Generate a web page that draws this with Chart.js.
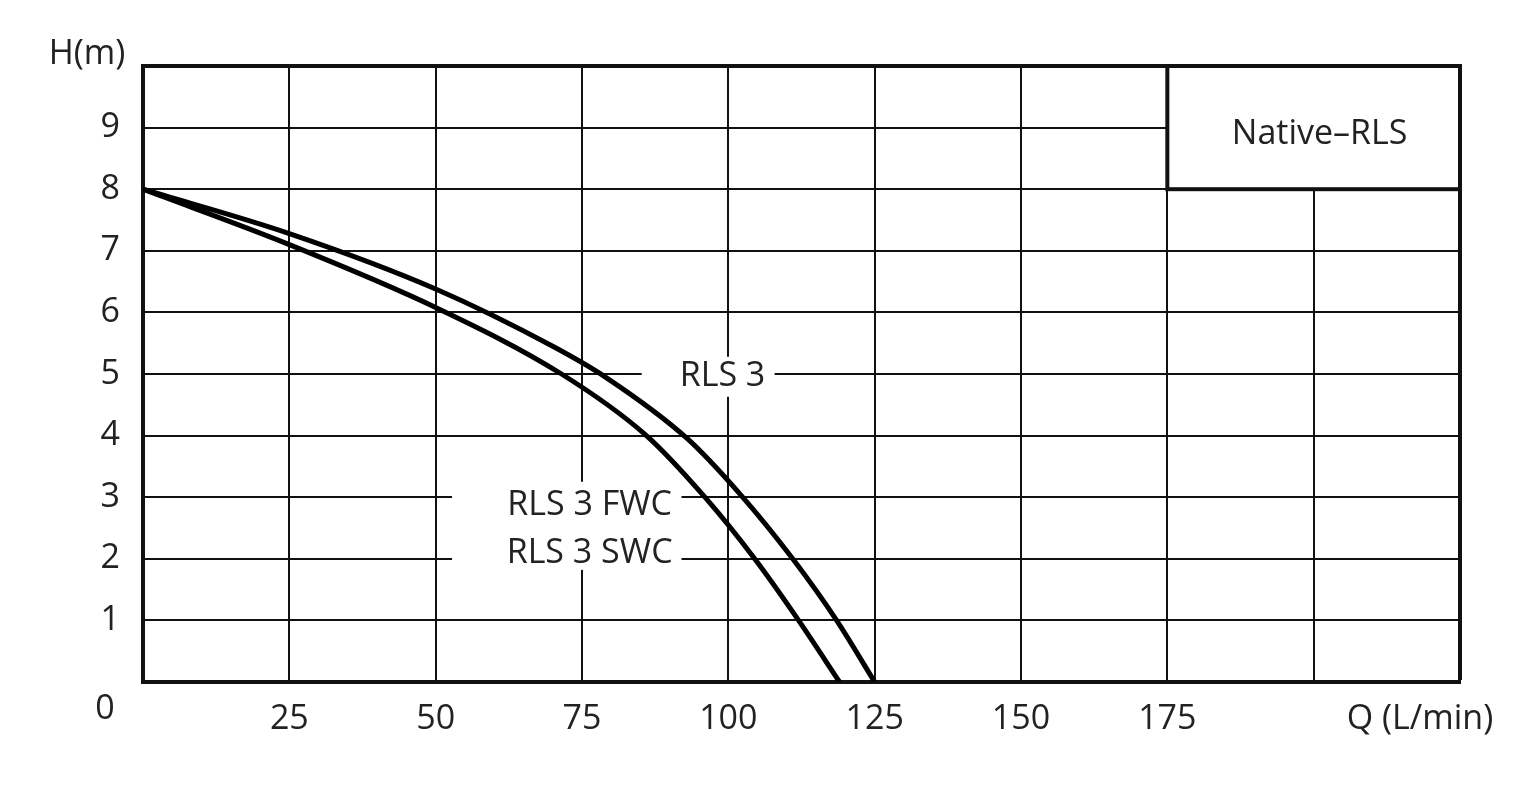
<!DOCTYPE html>
<html lang="en">
<head>
<meta charset="UTF-8">
<title>Native-RLS</title>
<script src="https://cdn.jsdelivr.net/npm/chart.js"></script>
<style>
  html, body { margin: 0; padding: 0; background: #fff; }
  #wrap { width: 1526px; height: 798px; }
</style>
</head>
<body>
<div id="wrap"><canvas id="chart"></canvas></div>
<script>
// pump curves
const qRls3 = [0, 25, 50, 70, 79, 93, 102, 111, 118.5, 125];
const hRls3 = [8, 7.28, 6.38, 5.45, 4.95, 3.95, 3.05, 2.0, 1.0, 0];
const qSwc = [0, 25, 50, 71.5, 86, 96, 104.5, 112, 119];
const hSwc = [8, 7.1, 6.08, 5.0, 4.0, 3.0, 2.0, 1.0, 0];

const xTickLabels = [25, 50, 75, 100, 125, 150, 175];
const yTickLabels = [1, 2, 3, 4, 5, 6, 7, 8, 9];

const FONT = "'Open Sans', 'DejaVu Sans', sans-serif";
const INK = '#111';

// labels on the plot, in data units (q, h); box = white cut-out [q0, q1, h0, h1]
const notes = [
  { text: 'RLS 3', q: 99, h: 5, box: [85.2, 107.9, 4.63, 5.28] },
  { text: 'RLS 3 FWC', q: 76.3, h: 2.9, box: [52.8, 92.0, 1.82, 3.25] },
  { text: 'RLS 3 SWC', q: 76.3, h: 2.13, box: null }
];

const annot = {
  id: 'annot',
  beforeDatasetsDraw(chart) {
    const { ctx, scales: { x, y } } = chart;
    ctx.save();
    ctx.fillStyle = '#fff';
    notes.forEach(n => {
      if (!n.box) return;
      const x0 = x.getPixelForValue(n.box[0]), x1 = x.getPixelForValue(n.box[1]);
      const y0 = y.getPixelForValue(n.box[3]), y1 = y.getPixelForValue(n.box[2]);
      ctx.fillRect(x0, y0, x1 - x0, y1 - y0);
    });
    // name box in the top right corner
    const bx0 = x.getPixelForValue(175), bx1 = x.getPixelForValue(225);
    const by0 = y.getPixelForValue(10), by1 = y.getPixelForValue(8);
    ctx.fillRect(bx0, by0, bx1 - bx0, by1 - by0);
    ctx.strokeStyle = INK;
    ctx.lineWidth = 4;
    ctx.strokeRect(bx0, by0, bx1 - bx0, by1 - by0);
    ctx.restore();
  },
  afterDraw(chart) {
    const { ctx, chartArea: a, scales: { x, y } } = chart;
    ctx.save();
    ctx.fillStyle = '#222';
    ctx.font = '34px ' + FONT;
    ctx.textAlign = 'center';
    ctx.textBaseline = 'alphabetic';
    notes.forEach(n => {
      ctx.fillText(n.text, x.getPixelForValue(n.q), y.getPixelForValue(n.h) + 12);
    });
    ctx.fillText('Native\u2013RLS', (x.getPixelForValue(175) + x.getPixelForValue(225)) / 2 + 6, y.getPixelForValue(9) + 16);
    ctx.fillText('H(m)', a.left - 56, a.top - 2);
    ctx.fillText('0', a.left - 38, a.bottom + 37);
    ctx.fillText('Q (L/min)', a.right - 40, a.bottom + 47);
    ctx.restore();
  }
};

const edgeWidth = edge => c => (c.tick && c.tick.value === edge ? 4 : 2);

new Chart(document.getElementById('chart'), {
  type: 'line',
  data: {
    datasets: [
      {
        label: 'RLS 3',
        data: qRls3.map((q, i) => ({ x: q, y: hRls3[i] })),
        borderColor: '#000', borderWidth: 5, pointRadius: 0,
        cubicInterpolationMode: 'monotone', fill: false
      },
      {
        label: 'RLS 3 FWC / SWC',
        data: qSwc.map((q, i) => ({ x: q, y: hSwc[i] })),
        borderColor: '#000', borderWidth: 5, pointRadius: 0,
        cubicInterpolationMode: 'monotone', fill: false
      }
    ]
  },
  options: {
    responsive: true,
    maintainAspectRatio: false,
    animation: false,
    layout: { padding: { top: 66, right: 66, left: 0, bottom: 0 } },
    plugins: { legend: { display: false }, tooltip: { enabled: false } },
    scales: {
      x: {
        type: 'linear', min: 0, max: 225,
        afterFit: s => { s.height = 116; },
        ticks: {
          stepSize: 25, padding: 17, color: '#222', maxRotation: 0, autoSkip: false,
          font: { family: FONT, size: 34 },
          callback: v => (xTickLabels.includes(v) ? String(v) : '')
        },
        grid: { color: INK, lineWidth: edgeWidth(225), drawTicks: false },
        border: { color: INK, width: 4 }
      },
      y: {
        min: 0, max: 10,
        afterFit: s => { s.width = 143; },
        ticks: {
          stepSize: 1, padding: 23, color: '#222', autoSkip: false,
          font: { family: FONT, size: 34 },
          callback: v => (yTickLabels.includes(v) ? String(v) : '')
        },
        grid: { color: INK, lineWidth: edgeWidth(10), drawTicks: false },
        border: { color: INK, width: 4 }
      }
    }
  },
  plugins: [annot]
});
</script>
</body>
</html>
